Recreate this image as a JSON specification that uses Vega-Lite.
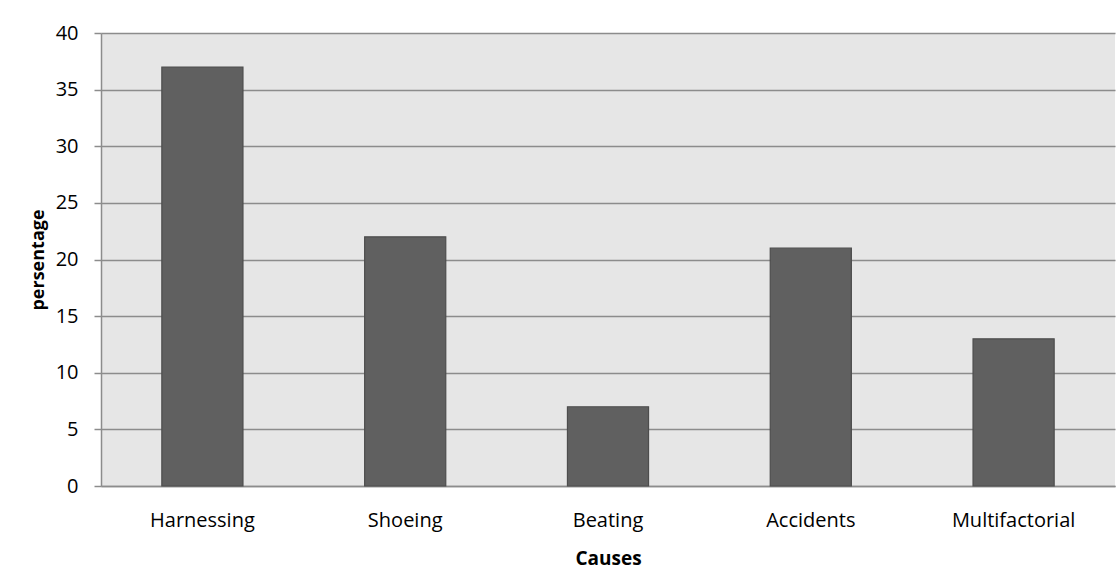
{
  "$schema": "https://vega.github.io/schema/vega-lite/v6.json",
  "autosize": "none",
  "width": 1014,
  "height": 453,
  "padding": {"left": 101, "top": 33, "right": 1, "bottom": 83},
  "background": "white",
  "config": {
    "view": {"fill": "#e6e6e6", "stroke": null},
    "font": "Open Sans"
  },
  "data": {
    "values": [
      {"cause": "Harnessing", "pct": 37},
      {"cause": "Shoeing", "pct": 22},
      {"cause": "Beating", "pct": 7},
      {"cause": "Accidents", "pct": 21},
      {"cause": "Multifactorial", "pct": 13}
    ]
  },
  "mark": {"type": "bar", "color": "#606060", "stroke": "#4d4d4d", "strokeWidth": 1.2},
  "encoding": {
    "x": {
      "field": "cause", "type": "nominal", "sort": null,
      "scale": {"paddingInner": 0.6, "paddingOuter": 0.3},
      "axis": {
        "title": "Causes", "titleFont": "Open Sans", "titleFontWeight": "bold", "titleFontSize": 19, "titleColor": "black",
        "titleBaseline": "top", "titleY": 63,
        "labelAngle": 0, "labelFontSize": 20, "labelColor": "black", "labelPadding": 24,
        "ticks": false, "domainColor": "#8c8c8c", "domainWidth": 1.5, "grid": false
      }
    },
    "y": {
      "field": "pct", "type": "quantitative",
      "scale": {"domain": [0, 40]},
      "axis": {
        "title": "persentage", "titleFontWeight": "bold", "titleFontSize": 18, "titleColor": "black",
        "titleX": -54, "titleY": 226.5, "titleBaseline": "bottom",
        "values": [0, 5, 10, 15, 20, 25, 30, 35, 40],
        "labelFontSize": 20, "labelColor": "black", "labelPadding": 16,
        "tickSize": 7, "tickColor": "#8c8c8c", "tickWidth": 1.5,
        "domainColor": "#8c8c8c", "domainWidth": 1.5,
        "grid": true, "gridColor": "#8c8c8c", "gridWidth": 1.5
      }
    }
  }
}
